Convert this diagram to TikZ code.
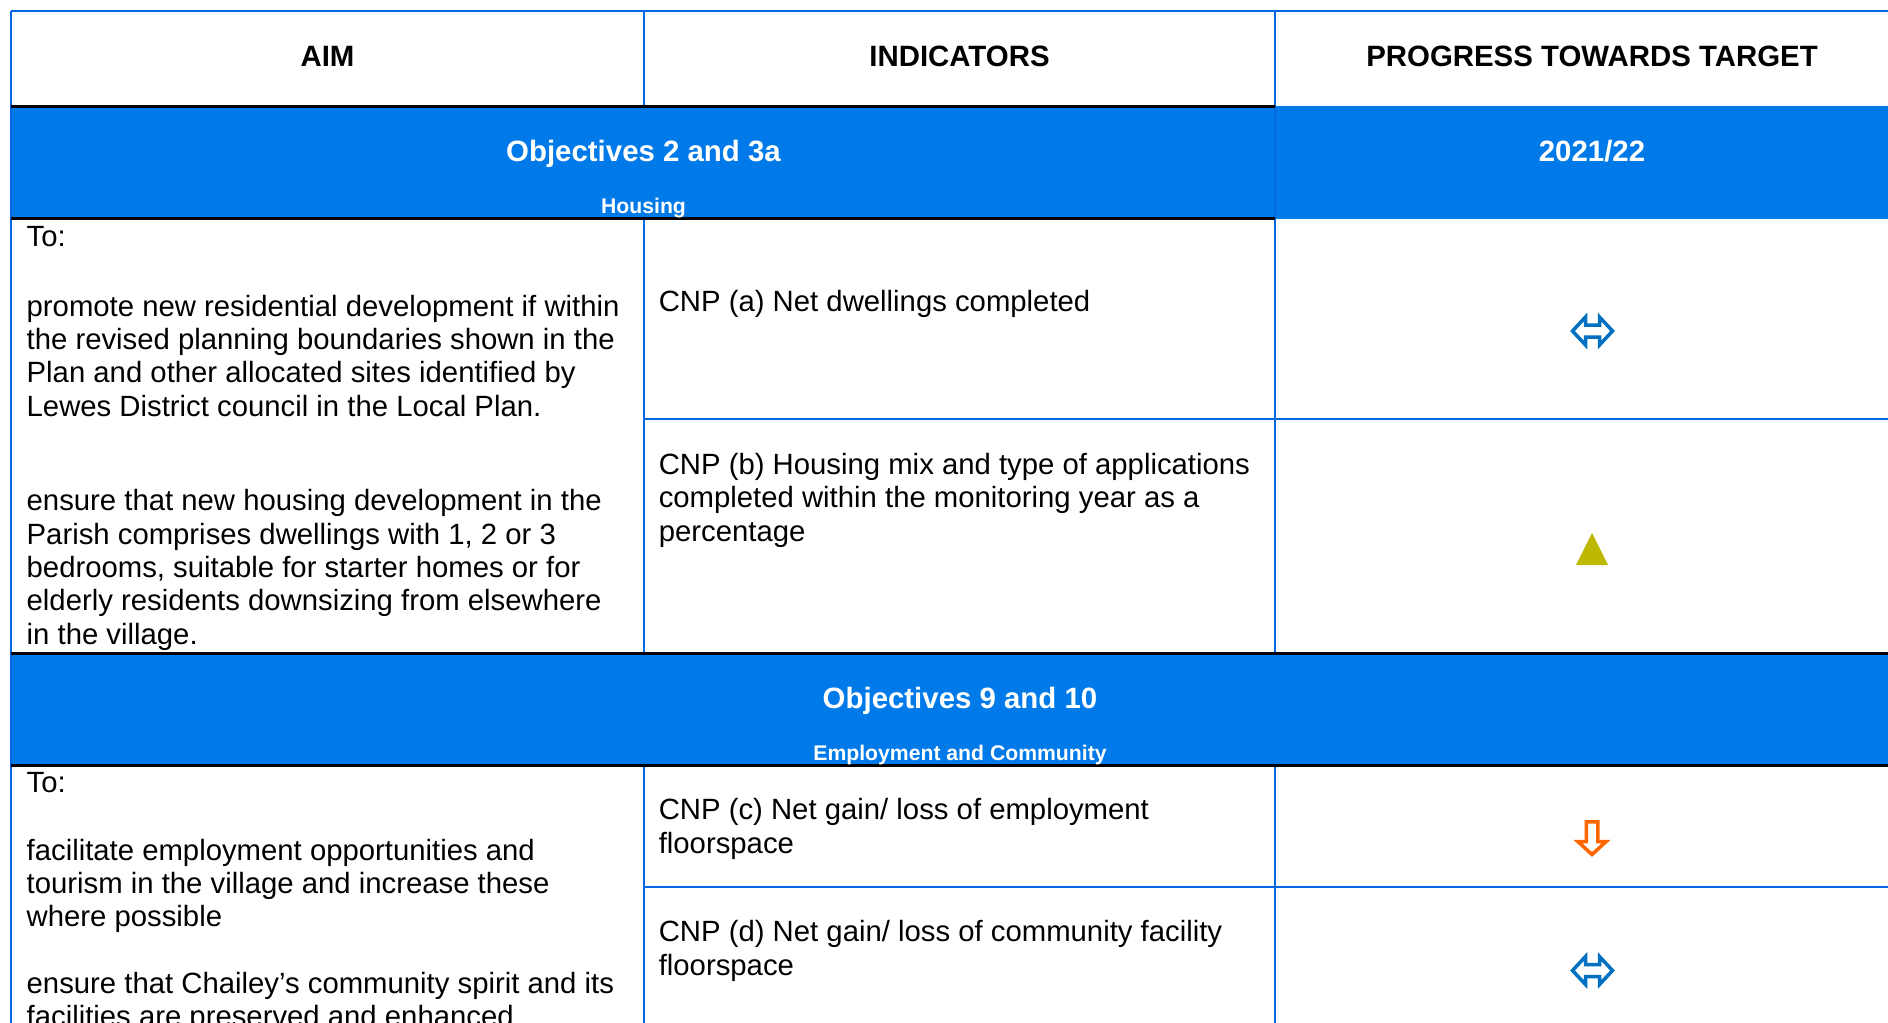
\documentclass[tikz,border=0pt]{standalone}
\usepackage{fontspec}
\setmainfont{Liberation Sans}
\definecolor{bandblue}{RGB}{0,122,232}
\definecolor{gridblue}{RGB}{0,104,224}
\definecolor{arrblue}{RGB}{0,112,192}
\definecolor{arrorange}{RGB}{255,102,0}
\definecolor{trigold}{RGB}{191,184,0}
\tikzset{
  gridline/.style={draw=gridblue,line width=2pt},
  blackline/.style={draw=black,line width=3pt},
  headtxt/.style={inner sep=0pt,anchor=base,font=\fontsize{29.4}{33}\selectfont\bfseries},
  bandtxt/.style={inner sep=0pt,anchor=base,text=white,font=\fontsize{29.4}{33}\selectfont\bfseries},
  subtxt/.style={inner sep=0pt,anchor=base,text=white,font=\fontsize{21.2}{24}\selectfont\bfseries},
  bodytxt/.style={inner sep=0pt,anchor=base west,align=left,font=\fontsize{29.3}{33.33}\selectfont},
  dblarrow/.style={draw=arrblue,line width=3.5pt,miter limit=10},
  downarrow/.style={draw=arrorange,line width=3.5pt,miter limit=10},
}
\begin{document}
\begin{tikzpicture}[x=1pt,y=-1pt]
\useasboundingbox (0,0) rectangle (1888,1023);
\clip (0,0) rectangle (1888,1023);
\fill[white] (0,0) rectangle (1888,1023);
% bands
\fill[bandblue] (11,106) rectangle (1920,219);
\fill[bandblue] (11,653) rectangle (1920,766);
% blue grid
\draw[gridline] (11,11) -- (1920,11);
\draw[gridline] (11,11) -- (11,1030);
\draw[gridline] (644,11) -- (644,106);
\draw[gridline] (1275,11) -- (1275,653);
\draw[gridline] (644,219) -- (644,653);
\draw[gridline] (644,419) -- (1920,419);
\draw[gridline] (644,766) -- (644,1030);
\draw[gridline] (1275,766) -- (1275,1030);
\draw[gridline] (644,887) -- (1920,887);
% black rules
\draw[blackline] (11,106) -- (1275,106);
\draw[blackline] (11,218.5) -- (1275,218.5);
\draw[blackline] (11,653) -- (1920,653);
\draw[blackline] (11,765) -- (1920,765);
% header
\node[headtxt] (hAim) at (327.5,66) {AIM};
\node[headtxt] (hInd) at (959.5,66) {INDICATORS};
\node[headtxt] (hProg) at (1592,66) {PROGRESS TOWARDS TARGET};
% band 1
\node[bandtxt] (obj1) at (643.5,161.7) {Objectives 2 and 3a};
\node[subtxt] (sub1) at (643.5,213.3) {Housing};
\node[bandtxt] (year) at (1592,161.7) {2021/22};
% band 2
\node[bandtxt] (obj2) at (960,708.7) {Objectives 9 and 10};
\node[subtxt] (sub2) at (960,760.3) {Employment and Community};
% aim texts (multi-line nodes: base = last line)
\node[bodytxt] (to1) at (26.5,246.7) {To:};
\node[bodytxt] (aim1) at (26.5,416) {promote new residential development if within\\the revised planning boundaries shown in the\\Plan and other allocated sites identified by\\Lewes District council in the Local Plan.};
\node[bodytxt] (aim2) at (26.5,644.3) {ensure that new housing development in the\\Parish comprises dwellings with 1, 2 or 3\\bedrooms, suitable for starter homes or for\\elderly residents downsizing from elsewhere\\in the village.};
\node[bodytxt] (to2) at (26.5,792.3) {To:};
\node[bodytxt] (aim3) at (26.5,926.7) {facilitate employment opportunities and\\tourism in the village and increase these\\where possible};
\node[bodytxt] (aim4) at (26.5,1026.7) {ensure that Chailey’s community spirit and its\\facilities are preserved and enhanced};
% indicators
\node[bodytxt] (ind1) at (658.6,311.7) {CNP (a) Net dwellings completed};
\node[bodytxt] (ind2) at (658.6,541) {CNP (b) Housing mix and type of applications\\completed within the monitoring year as a\\percentage};
\node[bodytxt] (ind3) at (658.6,853.3) {CNP (c) Net gain/ loss of employment\\floorspace};
\node[bodytxt] (ind4) at (658.6,975) {CNP (d) Net gain/ loss of community facility\\floorspace};
% progress icons
\begin{scope}[shift={(1592.5,331)}]
\draw[dblarrow] (-20,0) -- (-7,-14) -- (-7,-6) -- (7,-6) -- (7,-14) -- (20,0) -- (7,14) -- (7,6) -- (-7,6) -- (-7,14) -- cycle;
\end{scope}
\fill[trigold] (1576,565) -- (1608,565) -- (1592,533) -- cycle;
\begin{scope}[shift={(1592,0)}]
\draw[downarrow] (-5.75,821.75) -- (5.75,821.75) -- (5.75,841.5) -- (14.2,841.5) -- (0,854.5) -- (-14.2,841.5) -- (-5.75,841.5) -- cycle;
\end{scope}
\begin{scope}[shift={(1592.5,970.5)}]
\draw[dblarrow] (-20,0) -- (-7,-14) -- (-7,-6) -- (7,-6) -- (7,-14) -- (20,0) -- (7,14) -- (7,6) -- (-7,6) -- (-7,14) -- cycle;
\end{scope}
\end{tikzpicture}
\end{document}
